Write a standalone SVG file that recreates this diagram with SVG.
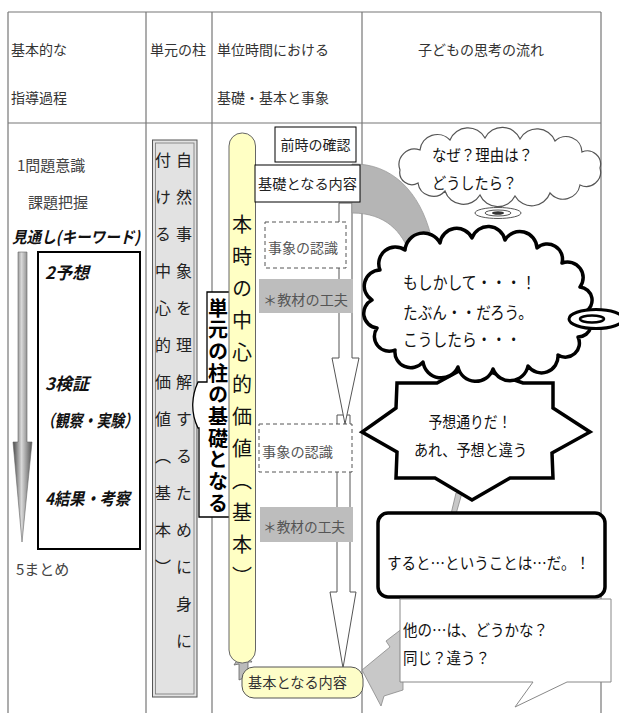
<svg xmlns="http://www.w3.org/2000/svg" width="619" height="713" viewBox="0 0 619 713">
<defs>
<style>
text { font-family: "Noto Sans CJK JP","Noto Sans CJK SC",sans-serif; fill:#2a2a2a; }
.h { font-size:14px; fill:#333; }
.lt { font-size:15px; fill:#444; }
.bi { font-size:16px; font-weight:bold; font-style:italic; fill:#111; }
.vt { writing-mode: vertical-rl; font-size:16px; fill:#222; }
.grid { stroke:#777; stroke-width:1.2; fill:none; }
.dash { fill:#fff; stroke:#555; stroke-width:1; stroke-dasharray:4 3; }
.gbox { fill:#bdbdbd; }
.gt { font-size:14px; fill:#555; }
.bt { font-size:14px; fill:#222; }
.ct { font-size:16px; fill:#111; }
.hollow { fill:#fff; stroke:#555; stroke-width:1; }
.thick { fill:#fff; stroke:#000; stroke-width:3.5; stroke-linejoin:round; }
</style>
<linearGradient id="gArrow" x1="0" x2="1" y1="0" y2="0">
<stop offset="0" stop-color="#4a4a4a"/>
<stop offset="0.45" stop-color="#d8d8d8"/>
<stop offset="1" stop-color="#555"/>
</linearGradient>
</defs>
<rect x="0" y="0" width="619" height="713" fill="#fff"/>

<g id="table">
<path class="grid" d="M8,12 H601 M8,123 H601 M8,12 V713 M146,12 V713 M212,12 V713 M362,12 V713 M601,12 V713"/>
<text class="h" x="11" y="55">基本的な</text>
<text class="h" x="11" y="103">指導過程</text>
<text class="h" x="150" y="55">単元の柱</text>
<text class="h" x="217" y="55">単位時間における</text>
<text class="h" x="217" y="103">基礎・基本と事象</text>
<text class="h" x="481" y="55" text-anchor="middle">子どもの思考の流れ</text>
</g>

<g id="process">
<text class="lt" x="17" y="171">1問題意識</text>
<text class="lt" x="28" y="208">課題把握</text>
<text class="bi" x="12" y="243" textLength="128" lengthAdjust="spacingAndGlyphs">見通し(キーワード)</text>
<polygon points="18,252 27,252 27,442 32,442 22,542 13,442 18,442" fill="url(#gArrow)" stroke="#666" stroke-width="0.6"/>
<rect x="38" y="252" width="102" height="297" fill="#fff" stroke="#000" stroke-width="2"/>
<text class="bi" x="45" y="279" style="font-size:17px">2予想</text>
<text class="bi" x="45" y="390" style="font-size:17px">3検証</text>
<text class="bi" x="41" y="427" style="font-size:17px" textLength="97" lengthAdjust="spacingAndGlyphs">（観察・実験）</text>
<text class="bi" x="45" y="505" style="font-size:17px" textLength="85" lengthAdjust="spacingAndGlyphs">4結果・考察</text>
<text class="lt" x="16" y="575">5まとめ</text>
</g>

<g id="pillar">
<rect x="152.5" y="140" width="44.5" height="557" fill="#e2e2e2" stroke="#555" stroke-width="1"/>
<rect x="155.5" y="143" width="38.5" height="551" fill="none" stroke="#777" stroke-width="0.8"/>
<text class="vt" x="184" y="152" style="letter-spacing:21px">自然事象を理解するために身に</text>
<text class="vt" x="163" y="152" style="letter-spacing:21px">付ける中心的価値（基本）</text>
</g>

<g id="basis-callout">
<path d="M229,292 H207 V382 H198 C192,395 190,412 198,428 H199 V517 H229" fill="#fff" stroke="#000" stroke-width="1.3"/>
<text class="vt" x="218" y="298" style="font-size:20px;font-weight:bold;fill:#000;letter-spacing:1.7px">単元の柱の基礎となる</text>
</g>

<g id="connectors">
<polygon class="hollow" points="337,415 350,415 350,592 356,592 343,668 330,592 337,592"/>
<polygon class="hollow" points="339,203 352,203 352,358 359,358 345,424 332,358 339,358"/>
<path d="M352,164 C392,163 420,192 431,236 L410,254 C402,232 386,213 352,213 Z" fill="#b5b5b5" stroke="#999" stroke-width="0.8"/>
<polygon points="456,493 462,493 456,514 451,514" fill="#c8c8c8" stroke="#888" stroke-width="0.8"/>
<polygon points="403,628 386,641 390,647 362,670 381,706 384,696 403,690" fill="#c8c8c8" stroke="#888" stroke-width="0.8"/>
<polygon points="243,651 252,662 248,662 248,676 239,680 239,664 234,665" fill="#bbb" stroke="#666" stroke-width="0.8"/>
</g>

<g id="core">
<rect x="229" y="133" width="26.5" height="530" rx="13" fill="#ffffc4" stroke="#666" stroke-width="1"/>
<text class="vt" x="242" y="214" style="font-size:20px;fill:#111;letter-spacing:12px">本時の中心的価値（基本）</text>
</g>

<g id="prev">
<rect x="275" y="127" width="81" height="35" fill="#fff" stroke="#000" stroke-width="1"/>
<text class="bt" x="315.5" y="150" text-anchor="middle">前時の確認</text>
</g>
<g id="basis">
<rect x="255" y="165" width="105" height="37" fill="#fff" stroke="#000" stroke-width="1"/>
<text class="bt" x="258" y="189" textLength="99" lengthAdjust="spacingAndGlyphs">基礎となる内容</text>
</g>
<g id="event1">
<rect class="dash" x="265" y="222" width="81" height="46"/>
<text class="gt" x="268" y="253" textLength="70" lengthAdjust="spacingAndGlyphs">事象の認識</text>
</g>
<g id="material1">
<rect class="gbox" x="259" y="279" width="94" height="34"/>
<text class="gt" x="263" y="305" textLength="85" lengthAdjust="spacingAndGlyphs">＊教材の工夫</text>
</g>
<g id="event2">
<rect class="dash" x="259" y="424" width="93" height="48"/>
<text class="gt" x="262" y="457" textLength="71" lengthAdjust="spacingAndGlyphs">事象の認識</text>
</g>
<g id="material2">
<rect class="gbox" x="260" y="507" width="93" height="35"/>
<text class="gt" x="263" y="532" textLength="82" lengthAdjust="spacingAndGlyphs">＊教材の工夫</text>
</g>
<g id="base">
<rect x="242" y="667" width="121" height="31" rx="12" fill="#fdfdc8" stroke="#555" stroke-width="1"/>
<text x="248" y="688" style="font-size:15px;fill:#333" textLength="99" lengthAdjust="spacingAndGlyphs">基本となる内容</text>
</g>

<g id="cloud-why">
<path d="M400,170 A15.6,15.6 0 0 1 420,150 A17.4,17.4 0 0 1 450,140 A19.4,19.4 0 0 1 485,138 A19.3,19.3 0 0 1 520,139 A19.4,19.4 0 0 1 555,141 A16,16 0 0 1 582,152 A13.3,13.3 0 0 1 600,168 A14.4,14.4 0 0 1 580,185 A17.1,17.1 0 0 1 550,193 A19.3,19.3 0 0 1 515,196 A19.3,19.3 0 0 1 480,195 A19.4,19.4 0 0 1 445,191 A15.5,15.5 0 0 1 418,183 A12.2,12.2 0 0 1 400,170 Z" fill="#fff" stroke="#555" stroke-width="1.2"/>
<ellipse cx="498" cy="213" rx="23" ry="5.5" fill="#fff" stroke="#555" stroke-width="1"/>
<ellipse cx="498" cy="213" rx="13" ry="3" fill="none" stroke="#555" stroke-width="1"/>
<ellipse cx="498" cy="213" rx="6" ry="1.8" fill="#333"/>
<text class="ct" x="432" y="161" textLength="101" lengthAdjust="spacingAndGlyphs">なぜ？理由は？</text>
<text class="ct" x="432" y="189" textLength="85" lengthAdjust="spacingAndGlyphs">どうしたら？</text>
</g>

<g id="star">
<polygon class="thick" style="stroke-linejoin:miter" points="397,383 437,383 470,365 523,383 553,383 553,408 590,432 552,453 553,478 510,478 472,500 435,478 396,478 397,452 362,432 396,408"/>
<text class="ct" x="470" y="428" text-anchor="middle" textLength="83" lengthAdjust="spacingAndGlyphs">予想通りだ！</text>
<text class="ct" x="414" y="456" textLength="113" lengthAdjust="spacingAndGlyphs">あれ、予想と違う</text>
</g>

<g id="cloud-maybe">
<path class="thick" d="M372,300 A16.2,16.2 0 0 1 380,270 A16.7,16.7 0 0 1 405,250 A18.6,18.6 0 0 1 440,243 A16.9,16.9 0 0 1 472,238 A17.2,17.2 0 0 1 505,240 A17.2,17.2 0 0 1 537,248 A15.2,15.2 0 0 1 562,263 A15.6,15.6 0 0 1 580,287 A13.3,13.3 0 0 1 585,312 A13.5,13.5 0 0 1 578,337 A14,14 0 0 1 558,355 A16.6,16.6 0 0 1 528,366 A18.3,18.3 0 0 1 493,369 A18.2,18.2 0 0 1 458,367 A18.4,18.4 0 0 1 423,362 A15.9,15.9 0 0 1 395,350 A14.8,14.8 0 0 1 377,328 A14.8,14.8 0 0 1 372,300 Z"/>
<ellipse cx="596" cy="319" rx="27" ry="9.5" fill="#fff" stroke="#000" stroke-width="3"/>
<ellipse cx="592" cy="319" rx="12" ry="3.5" fill="none" stroke="#000" stroke-width="2.5"/>
<text class="ct" x="403" y="289" style="font-size:17px" textLength="133" lengthAdjust="spacingAndGlyphs">もしかして・・・！</text>
<text class="ct" x="403" y="319" style="font-size:17px" textLength="130" lengthAdjust="spacingAndGlyphs">たぶん・・だろう。</text>
<text class="ct" x="403" y="346" style="font-size:17px" textLength="118" lengthAdjust="spacingAndGlyphs">こうしたら・・・</text>
</g>

<g id="result">
<rect x="378" y="513" width="227" height="84" rx="10" fill="#fff" stroke="#000" stroke-width="3.5"/>
<text class="ct" x="387" y="569" textLength="203" lengthAdjust="spacingAndGlyphs">すると…ということは…だ。！</text>
</g>

<g id="other">
<path d="M400,599 H611 V682 H567 L515,707 L533,682 H400 Z" fill="#fff" stroke="#888" stroke-width="1"/>
<text class="ct" x="403" y="636" textLength="145" lengthAdjust="spacingAndGlyphs">他の…は、どうかな？</text>
<text class="ct" x="403" y="664" textLength="87" lengthAdjust="spacingAndGlyphs">同じ？違う？</text>
</g>
</svg>
